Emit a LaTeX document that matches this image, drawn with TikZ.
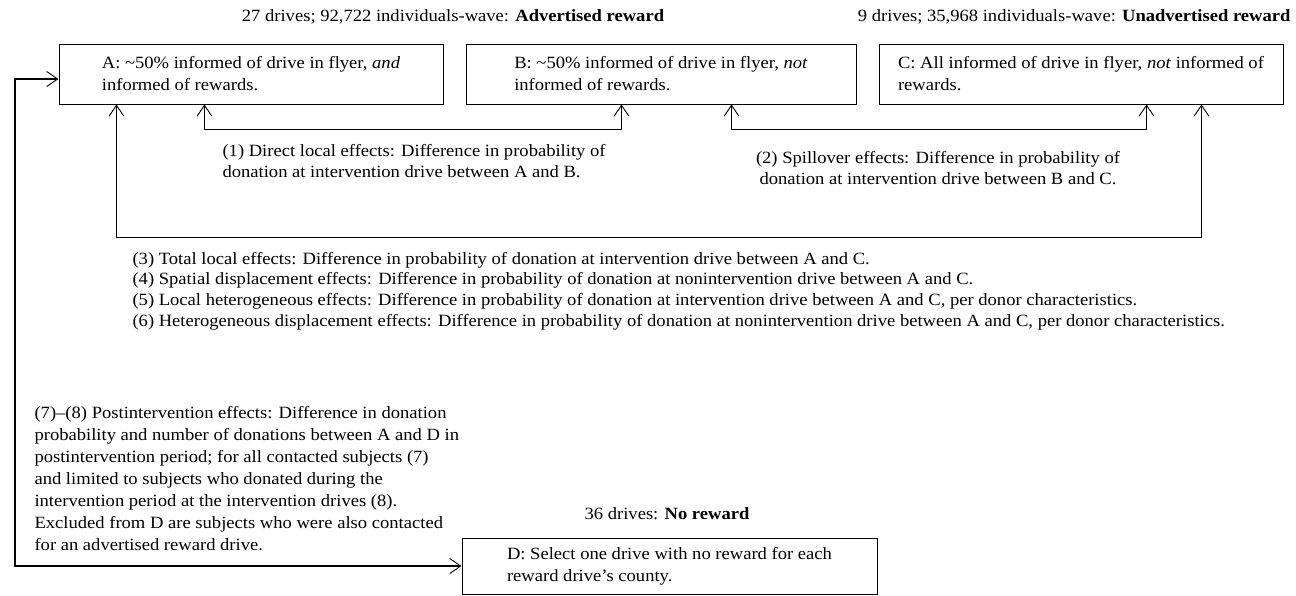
\documentclass[tikz,border=0pt]{standalone}
\usepackage{fontspec}
\setmainfont{Liberation Serif}[FakeStretch=1.08]
\usetikzlibrary{arrows.meta}
\begin{document}
\begin{tikzpicture}[x=1pt,y=-1pt,
    font=\fontsize{17.2}{20.6}\selectfont,
    box/.style={draw,line width=1pt,align=left,minimum height=60,inner sep=0pt,
      font=\fontsize{17.2}{22}\selectfont},
    tip/.tip={Straight Barb[length=11pt,width=15pt,line width=0.9pt]},
    link/.style={line width=1.4pt,tip-tip}]
  \useasboundingbox (0,0) rectangle (1296,595);

  % headers
  \node (hadv) at (453,17) {27 drives; 92,722 individuals-wave: \textbf{Advertised reward}};
  \node[anchor=east] (hunadv) at (1294,17) {9 drives; 35,968 individuals-wave: \textbf{Unadvertised reward}};
  \node (hno) at (667,514) {36 drives: \textbf{No reward}};

  % treatment groups
  \node[box,minimum width=384] (A) at (251,74)
    {A: \textasciitilde50\% informed of drive in flyer, \textit{and}\\ informed of rewards.};
  \node[box,minimum width=390] (B) at (661,74)
    {B: \textasciitilde50\% informed of drive in flyer, \textit{not}\\ informed of rewards.};
  \node[box,minimum width=404] (C) at (1081,74)
    {C: All informed of drive in flyer, \textit{not} informed of\\ rewards.};
  \node[box,minimum width=415,minimum height=56] (D) at (669.5,566)
    {D: Select one drive with no reward for each\\ reward drive's county.};

  % comparisons
  \draw[link] ([xshift=146]A.south west) -- ++(0,25) -| ([xshift=156]B.south west);
  \draw[link] ([xshift=266]B.south west) -- ++(0,25) -| ([xshift=268]C.south west);
  \draw[link] ([xshift=58]A.south west) -- ++(0,133) -| ([xshift=323]C.south west);
  \coordinate (loop) at (15,79);
  \draw[link] ([yshift=-5]A.west) -- (loop) |- (D.west);

  % effect labels
  \node[anchor=west,align=left] (e1) at (219,161)
    {(1) Direct local effects: Difference in probability of\\ donation at intervention drive between A and B.};
  \node[align=center] (e2) at (938,168)
    {(2) Spillover effects: Difference in probability of\\ donation at intervention drive between B and C.};
  \node[anchor=west,align=left] (e3) at (129,291)
    {(3) Total local effects: Difference in probability of donation at intervention drive between A and C.\\
     (4) Spatial displacement effects: Difference in probability of donation at nonintervention drive between A and C.\\
     (5) Local heterogeneous effects: Difference in probability of donation at intervention drive between A and C, per donor characteristics.\\
     (6) Heterogeneous displacement effects: Difference in probability of donation at nonintervention drive between A and C, per donor characteristics.};
  \node[anchor=west,align=left,font=\fontsize{17.2}{22}\selectfont] (e7) at (31,479)
    {(7)--(8) Postintervention effects: Difference in donation\\
     probability and number of donations between A and D in\\
     postintervention period; for all contacted subjects (7)\\
     and limited to subjects who donated during the\\
     intervention period at the intervention drives (8).\\
     Excluded from D are subjects who were also contacted\\
     for an advertised reward drive.};
\end{tikzpicture}
\end{document}
